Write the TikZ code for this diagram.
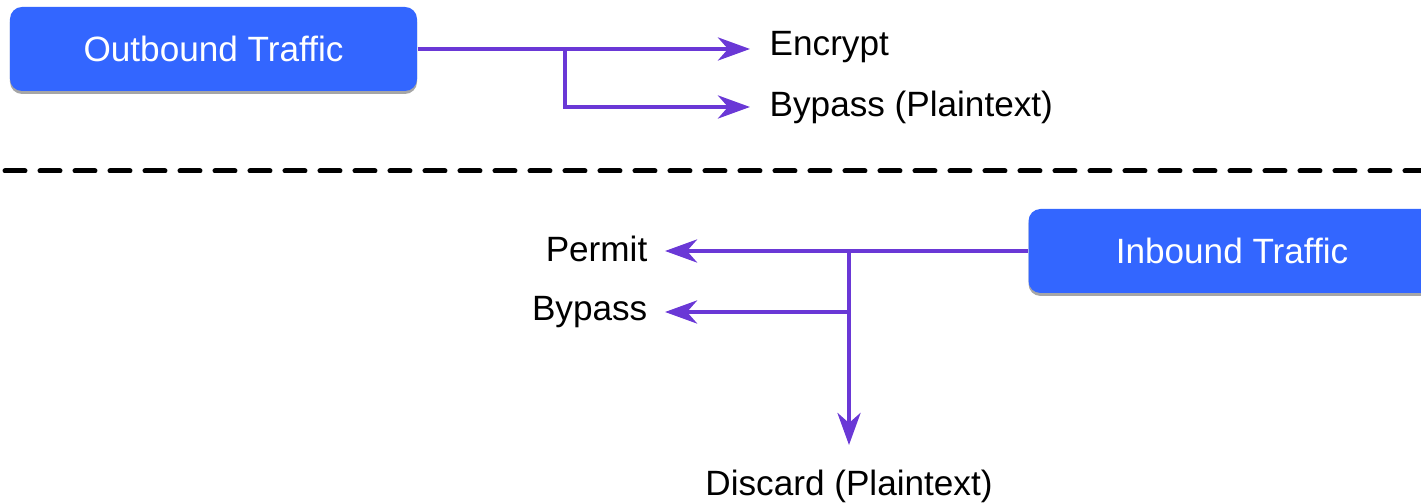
\documentclass[tikz,border=0pt]{standalone}
\usepackage{fontspec}
\setsansfont{Liberation Sans}
\usepackage{xcolor}
\usetikzlibrary{arrows.meta,shadows}
\definecolor{boxblue}{HTML}{3366FF}
\definecolor{flowpurple}{HTML}{6A38D6}

\begin{document}
\begin{tikzpicture}[font=\sffamily\fontsize{10}{12}\selectfont,
    trafficbox/.style={fill=boxblue, text=white, rounded corners=0.12cm, minimum width=4.07cm, minimum height=0.84cm,
        drop shadow={shadow xshift=0cm, shadow yshift=-0.03cm, opacity=0.35, fill=black}},
    flow/.style={flowpurple, line width=0.045cm, -{Stealth[length=0.32cm, width=0.23cm, inset=0.1cm]}},
    lbl/.style={text=black, inner sep=0pt}]
    \useasboundingbox (0,0) rectangle (14.21,-5.03);
    \clip (0,0) rectangle (14.21,-5.03);
    \draw[line width=0.05cm, line cap=round, dash pattern=on 0.2cm off 0.15cm] (0.05,-1.71) -- (14.21,-1.71);
    \node[trafficbox] (out) at (2.135,-0.49) {Outbound Traffic};
    \node[lbl, anchor=west] (enc) at (7.69,-0.47) {Encrypt};
    \node[lbl, anchor=west] (byp1) at (7.69,-1.07) {Bypass (Plaintext)};
    \coordinate (split1) at (5.65,-0.49);
    \draw[flow] (out.east) -- (out.east -| 7.5,0);
    \draw[flow] (split1) |- (byp1.west -| 7.5,0);
    \node[trafficbox] (in) at (12.32,-2.51) {Inbound Traffic};
    \node[lbl, anchor=east] (perm) at (6.48,-2.49) {Permit};
    \node[lbl, anchor=east] (byp2) at (6.48,-3.12) {Bypass};
    \node[lbl] (disc) at (8.49,-4.86) {Discard (Plaintext)};
    \coordinate (split2) at (8.49,-2.51);
    \draw[flow] (in.west) -- (in.west -| 6.65,0);
    \draw[flow] (split2 |- byp2) -- (byp2.east -| 6.65,0);
    \draw[flow] (split2) -- (split2 |- 0,-4.45);
\end{tikzpicture}
\end{document}
